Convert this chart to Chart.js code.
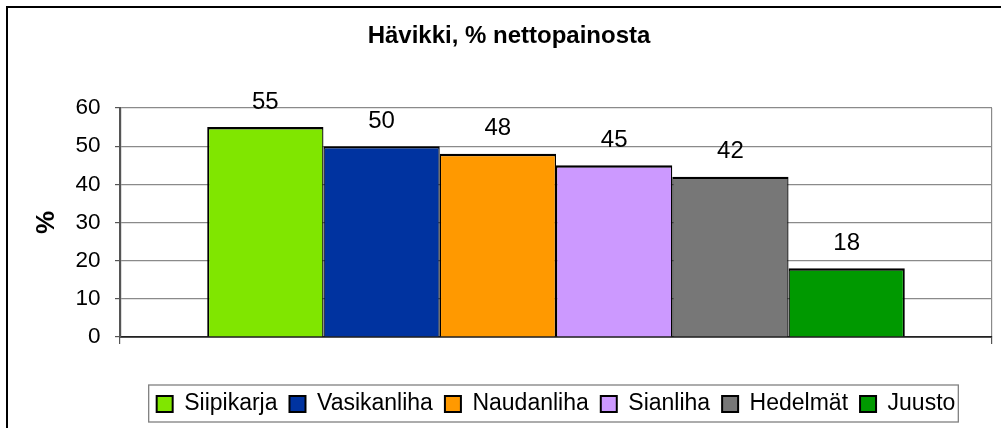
<!DOCTYPE html>
<html><head><meta charset="utf-8">
<script src="https://cdn.jsdelivr.net/npm/chart.js@4/dist/chart.umd.min.js"></script>
<style>html,body{margin:0;padding:0;background:#fff;overflow:hidden}
#c{display:block;width:1001px;height:428px}</style>
</head><body>
<canvas id="c" width="1001" height="428" style="width:1001px;height:428px"></canvas>
<script>
const chartTitle = 'Hävikki, % nettopainosta';
const yAxisTitle = '%';
const categories = [''];
const seriesNames = ['Siipikarja', 'Vasikanliha', 'Naudanliha', 'Sianliha', 'Hedelmät', 'Juusto'];
const seriesValues = [55, 50, 48, 45, 42, 18];
const yTicks = [0, 10, 20, 30, 40, 50, 60];
const palette = ['#80E600', '#0033A0', '#FF9900', '#CC99FF', '#777777', '#009900'];

const FONT = '"Liberation Sans", Arial, sans-serif';
Chart.defaults.font.family = FONT;
Chart.defaults.color = '#000';

const datasets = seriesNames.map((name, i) => ({
  label: name,
  data: [seriesValues[i]],
  backgroundColor: palette[i],
  borderColor: '#000',
  borderWidth: {
    top: 2.4,
    left: i === 0 ? 2 : 1.3,
    right: i === seriesNames.length - 1 ? 2 : 1.3,
    bottom: 0
  },
  categoryPercentage: 0.8,
  barPercentage: 1.0
}));

const framePlugin = {
  id: 'frame',
  beforeDraw(chart) {
    const ctx = chart.ctx;
    ctx.save();
    ctx.fillStyle = '#fff';
    ctx.fillRect(0, 0, chart.width, chart.height);
    ctx.strokeStyle = '#000';
    ctx.lineWidth = 2;
    ctx.beginPath();
    ctx.moveTo(6, 7);
    ctx.lineTo(chart.width + 2, 7);
    ctx.moveTo(7, 6);
    ctx.lineTo(7, chart.height + 2);
    ctx.stroke();
    ctx.restore();
  },
  afterDraw(chart) {
    const ctx = chart.ctx;
    const hb = chart.legend.legendHitBoxes;
    if (!hb || !hb.length) return;
    const last = hb[hb.length - 1];
    const left = hb[0].left - 8;
    const right = last.left + last.width + 3;
    const top = hb[0].top - 7.5;
    const bottom = hb[0].top + 29.5;
    ctx.save();
    ctx.strokeStyle = '#808080';
    ctx.lineWidth = 1.3;
    ctx.strokeRect(left, top, right - left, bottom - top);
    ctx.restore();
  }
};

const valueLabels = {
  id: 'valueLabels',
  afterDatasetsDraw(chart) {
    const ctx = chart.ctx;
    ctx.save();
    ctx.font = '24px ' + FONT;
    ctx.fillStyle = '#000';
    ctx.textAlign = 'center';
    ctx.textBaseline = 'middle';
    chart.data.datasets.forEach((ds, i) => {
      const meta = chart.getDatasetMeta(i);
      meta.data.forEach((bar, j) => {
        ctx.fillText(String(ds.data[j]), bar.x, bar.y - 25);
      });
    });
    ctx.restore();
  }
};

new Chart(document.getElementById('c'), {
  type: 'bar',
  data: { labels: categories, datasets },
  options: {
    responsive: false,
    animation: false,
    devicePixelRatio: 1,
    layout: { padding: { left: 26, right: 9, top: 0, bottom: 2.5 } },
    plugins: {
      title: {
        display: true,
        text: chartTitle,
        color: '#000',
        font: { size: 24, weight: 'bold', family: FONT },
        padding: { top: 22.1, bottom: 57.1 }
      },
      legend: {
        position: 'bottom',
        fullSize: false,
        labels: {
          color: '#000',
          font: { size: 23, family: FONT },
          boxWidth: 16,
          boxHeight: 16,
          padding: 12,
          generateLabels(chart) {
            const items = Chart.defaults.plugins.legend.labels.generateLabels(chart);
            items.forEach(it => { it.lineWidth = 2; it.strokeStyle = '#000'; });
            return items;
          }
        }
      },
      tooltip: { enabled: false }
    },
    scales: {
      x: {
        grid: { color: '#8a8a8a', lineWidth: 1.2, tickLength: 7, tickColor: '#555', offset: true },
        border: { color: '#222', width: 1.8 },
        ticks: { font: { size: 18 } },
        afterFit(scale) { scale.height = 43.5; }
      },
      y: {
        min: yTicks[0],
        max: yTicks[yTicks.length - 1],
        ticks: { stepSize: yTicks[1] - yTicks[0], font: { size: 22.5 }, color: '#000', padding: 14.5 },
        grid: { color: '#8a8a8a', lineWidth: 1.2, tickLength: 5, tickColor: '#555' },
        border: { color: '#555', width: 2.2 },
        title: {
          display: true,
          text: yAxisTitle,
          color: '#000',
          font: { size: 26, weight: 'bold', family: FONT },
          padding: { top: 5.4, bottom: 0 }
        },
        afterFit(scale) { scale.width = 94; }
      }
    }
  },
  plugins: [framePlugin, valueLabels]
});
</script>
</body></html>
